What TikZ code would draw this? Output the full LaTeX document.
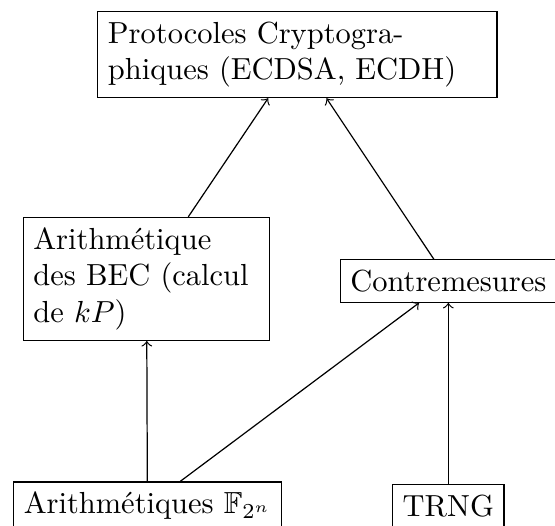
\documentclass[tikz,border=0pt]{standalone}
\usepackage{amsfonts}
\usepackage{tikz}

\begin{document}
\begin{tikzpicture}[
    box/.style={draw, align=left},
    link/.style={->}
]
% Frame
\useasboundingbox (0,0) rectangle (6.40,-6.06);

% Layers
\node[box, text width=4.37cm] (proto) at (3.43,-0.63) {Protocoles Cryptogra-\\phiques (ECDSA, ECDH)};
\node[box, text width=2.61cm, anchor=north] (bec) at (1.69,-2.50) {Arithm\'etique\\des BEC (calcul\\de $kP$)};
\node[box] (contre) at (5.17,-3.24) {Contremesures};
\node[box, anchor=north] (field) at (1.70,-5.55) {Arithm\'etiques $\mathbb{F}_{2^n}$};
\node[box, anchor=north] (trng) at (5.17,-5.58) {TRNG};

% Arrows
\draw[link] (bec) -- (proto);
\draw[link] (contre) -- (proto);
\draw[link] (field) -- (bec);
\draw[link] (field) -- (contre);
\draw[link] (trng) -- (contre);

\end{tikzpicture}
\end{document}
